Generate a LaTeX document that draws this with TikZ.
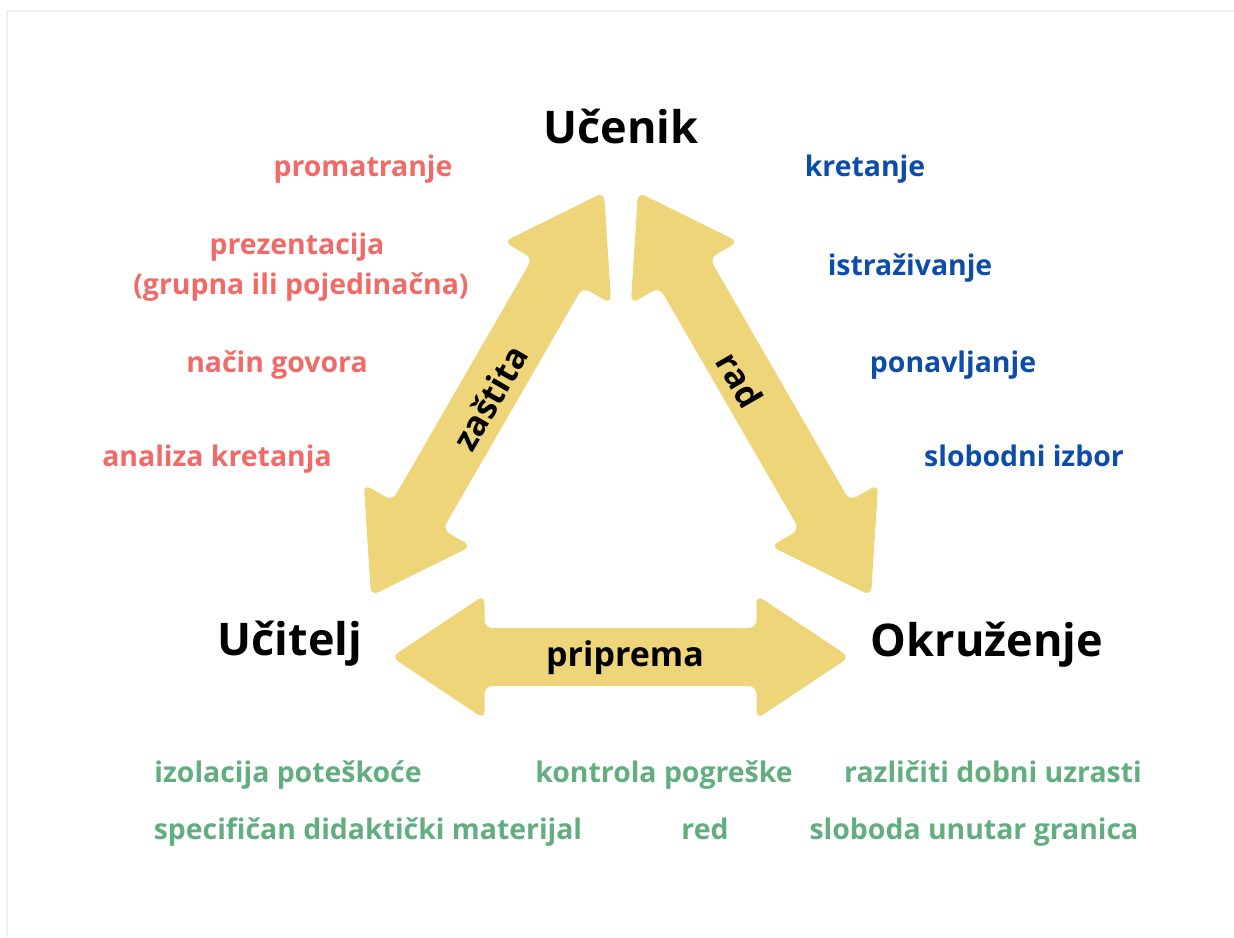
\documentclass[tikz,border=0pt]{standalone}
\usepackage{fontspec}
\setmainfont{Open Sans}
\usetikzlibrary{positioning}
\definecolor{arrowyellow}{HTML}{EED57A}
\definecolor{obsred}{HTML}{F06B68}
\definecolor{workblue}{HTML}{0B4DA8}
\definecolor{envgreen}{HTML}{62AE80}
\definecolor{framegray}{HTML}{EEEEEE}
\tikzset{
	every node/.style = {font=\bfseries\fontsize{14.2}{17}\selectfont, anchor=base, inner sep=0pt},
	role/.style = {font=\bfseries\fontsize{22.5}{27}\selectfont},
	link/.style = {font=\bfseries\fontsize{17}{20}\selectfont, anchor=center},
	obs/.style = {text=obsred},
	work/.style = {text=workblue},
	env/.style = {text=envgreen}
}
% #1 centre, #2 angle, #3 half length
\newcommand{\dblarrow}[3]{%
	\fill[arrowyellow, rounded corners=4pt, shift={#1}, rotate=#2]
		(-#3,0) -- (-#3+93,62) -- (-#3+93,29) -- (#3-93,29) -- (#3-93,62)
		-- (#3,0) -- (#3-93,-62) -- (#3-93,-29) -- (-#3+93,-29) -- (-#3+93,-62) -- cycle;}

\begin{document}
\begin{tikzpicture}[x=0.5pt, y=-0.5pt]
		\useasboundingbox (0,0) rectangle (1234,937);
		\draw[framegray, line width=1pt] (7,937) -- (7,11) -- (1234,11);
		
		% arrows
		\dblarrow{(487.5,394)}{60}{233}
		\dblarrow{(754.5,394)}{-60}{233}
		\dblarrow{(620.5,657)}{0}{229}
		
		\node[link, rotate=60] (zastita) at (490,398) {zaštita};
		\node[link, rotate=-60] (rad) at (740,380) {rad};
		\node[link] (priprema) at (625,658) {priprema};
		
		% roles
		\node[role] (ucenik) at (621,143) {Učenik};
		\node[role] (ucitelj) at (290,655) {Učitelj};
		\node[role] (okruzenje) at (987,656) {Okruženje};
		
		% teacher side
		\node[obs] (promatranje) at (363,176) {promatranje};
		\node[obs] (prezentacija) at (297,254) {prezentacija};
		\node[obs] (grupna) at (301,294) {(grupna ili pojedinačna)};
		\node[obs] (govor) at (277,372) {način govora};
		\node[obs] (analiza) at (217,466) {analiza kretanja};
		
		% pupil side
		\node[work] (kretanje) at (865,176) {kretanje};
		\node[work] (istrazivanje) at (910,275) {istraživanje};
		\node[work] (ponavljanje) at (953,372) {ponavljanje};
		\node[work] (izbor) at (1024,466) {slobodni izbor};
		
		% environment
		\node[env] (izolacija) at (288,782) {izolacija poteškoće};
		\node[env] (kontrola) at (664,782) {kontrola pogreške};
		\node[env] (uzrasti) at (993,782) {različiti dobni uzrasti};
		\node[env] (materijal) at (368,839) {specifičan didaktički materijal};
		\node[env] (red) at (705,839) {red};
		\node[env] (sloboda) at (974,839) {sloboda unutar granica};
	\end{tikzpicture}
\end{document}
